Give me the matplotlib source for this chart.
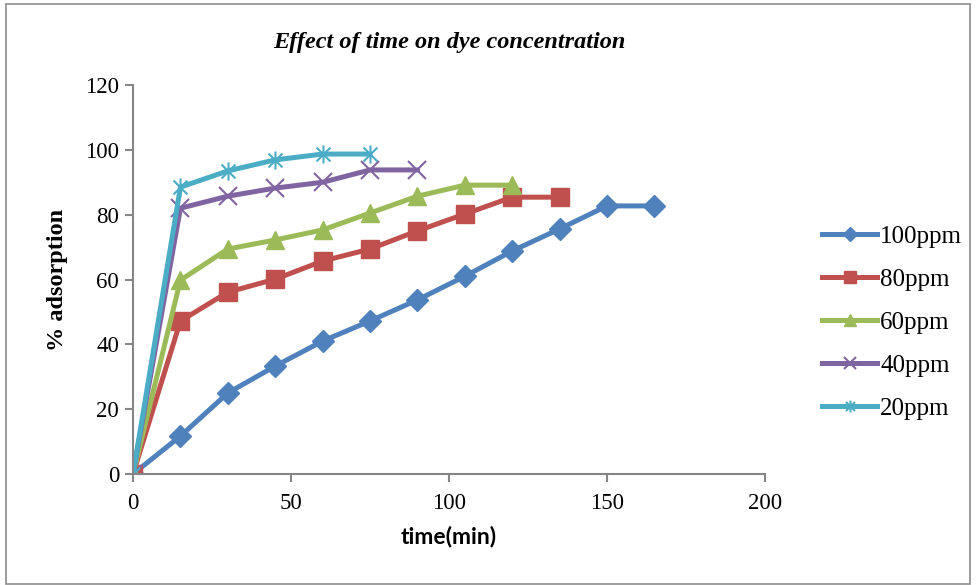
import matplotlib.pyplot as plt
import matplotlib as mpl
from matplotlib.path import Path
from matplotlib.patches import Rectangle

mpl.rcParams['font.family'] = 'Liberation Serif'

# time points and % adsorption for each initial dye concentration
time_100 = [0, 15, 30, 45, 60, 75, 90, 105, 120, 135, 150, 165]
ads_100 = [0, 11.7, 25, 33.3, 41, 47.2, 53.7, 61, 68.8, 75.6, 82.7, 82.7]
time_80 = [0, 15, 30, 45, 60, 75, 90, 105, 120, 135]
ads_80 = [0, 47.2, 56.1, 60.1, 65.7, 69.4, 75, 80.2, 85.4, 85.4]
time_60 = [0, 15, 30, 45, 60, 75, 90, 105, 120]
ads_60 = [0, 59.8, 69.4, 72.2, 75.3, 80.5, 85.7, 89.1, 89.1]
time_40 = [0, 15, 30, 45, 60, 75, 90]
ads_40 = [0, 82, 85.7, 88.2, 90, 93.8, 93.8]
time_20 = [0, 15, 30, 45, 60, 75]
ads_20 = [0, 88.5, 93.5, 96.9, 98.7, 98.7]

# excel style star marker: an x with a vertical bar
star = Path([(-1, -1), (1, 1), (-1, 1), (1, -1), (0, -1.3), (0, 1.3)],
            [Path.MOVETO, Path.LINETO, Path.MOVETO, Path.LINETO, Path.MOVETO, Path.LINETO])

fig = plt.figure(figsize=(9.76, 5.85), dpi=100)
ax = fig.add_axes([0.1363, 0.1897, 0.6475, 0.665])

fig.patches.append(Rectangle((6 / 976, 1 / 585), 964 / 976, 580 / 585, transform=fig.transFigure,
                             fill=False, edgecolor='#8c8c8c', linewidth=1.2))

lw = 3.6
ax.plot(time_100, ads_100, color='#4F81BD', lw=lw, marker='D', ms=11, label='100ppm')
ax.plot(time_80, ads_80, color='#C0504D', lw=lw, marker='s', ms=12.5, label='80ppm')
ax.plot(time_60, ads_60, color='#9BBB59', lw=lw, marker='^', ms=13, label='60ppm')
ax.plot(time_40, ads_40, color='#8064A2', lw=lw, marker='x', ms=13, mew=1.5, label='40ppm')
ax.plot(time_20, ads_20, color='#4BACC6', lw=lw, marker=star, ms=13, mew=1.5, label='20ppm')

ax.set_xlim(0, 200)
ax.set_ylim(0, 120)
ax.set_xticks([0, 50, 100, 150, 200])
ax.set_yticks(range(0, 121, 20))

for s in ['top', 'right']:
    ax.spines[s].set_visible(False)
for s in ['left', 'bottom']:
    ax.spines[s].set_color('#868686')
    ax.spines[s].set_linewidth(1.5)
ax.tick_params(colors='#868686', width=1.5, length=6, labelsize=16.5, labelcolor='black')
ax.tick_params(axis='x', pad=8)
ax.tick_params(axis='y', pad=4)

ax.set_title('Effect of time on dye concentration', fontsize=17.5, fontweight='bold',
             fontstyle='italic', pad=27)
ax.set_ylabel('% adsorption', fontsize=17.5, fontweight='bold', labelpad=12)
ax.set_xlabel('time(min)', fontsize=16.5, fontweight='bold', family='Lato', labelpad=8)

leg = ax.legend(loc='center left', bbox_to_anchor=(1.055, 0.39), frameon=False, fontsize=18,
                handlelength=2.2, handletextpad=0.12, labelspacing=0.82, markerscale=0.65)

plt.savefig('out.png', dpi=100)
plt.close()
